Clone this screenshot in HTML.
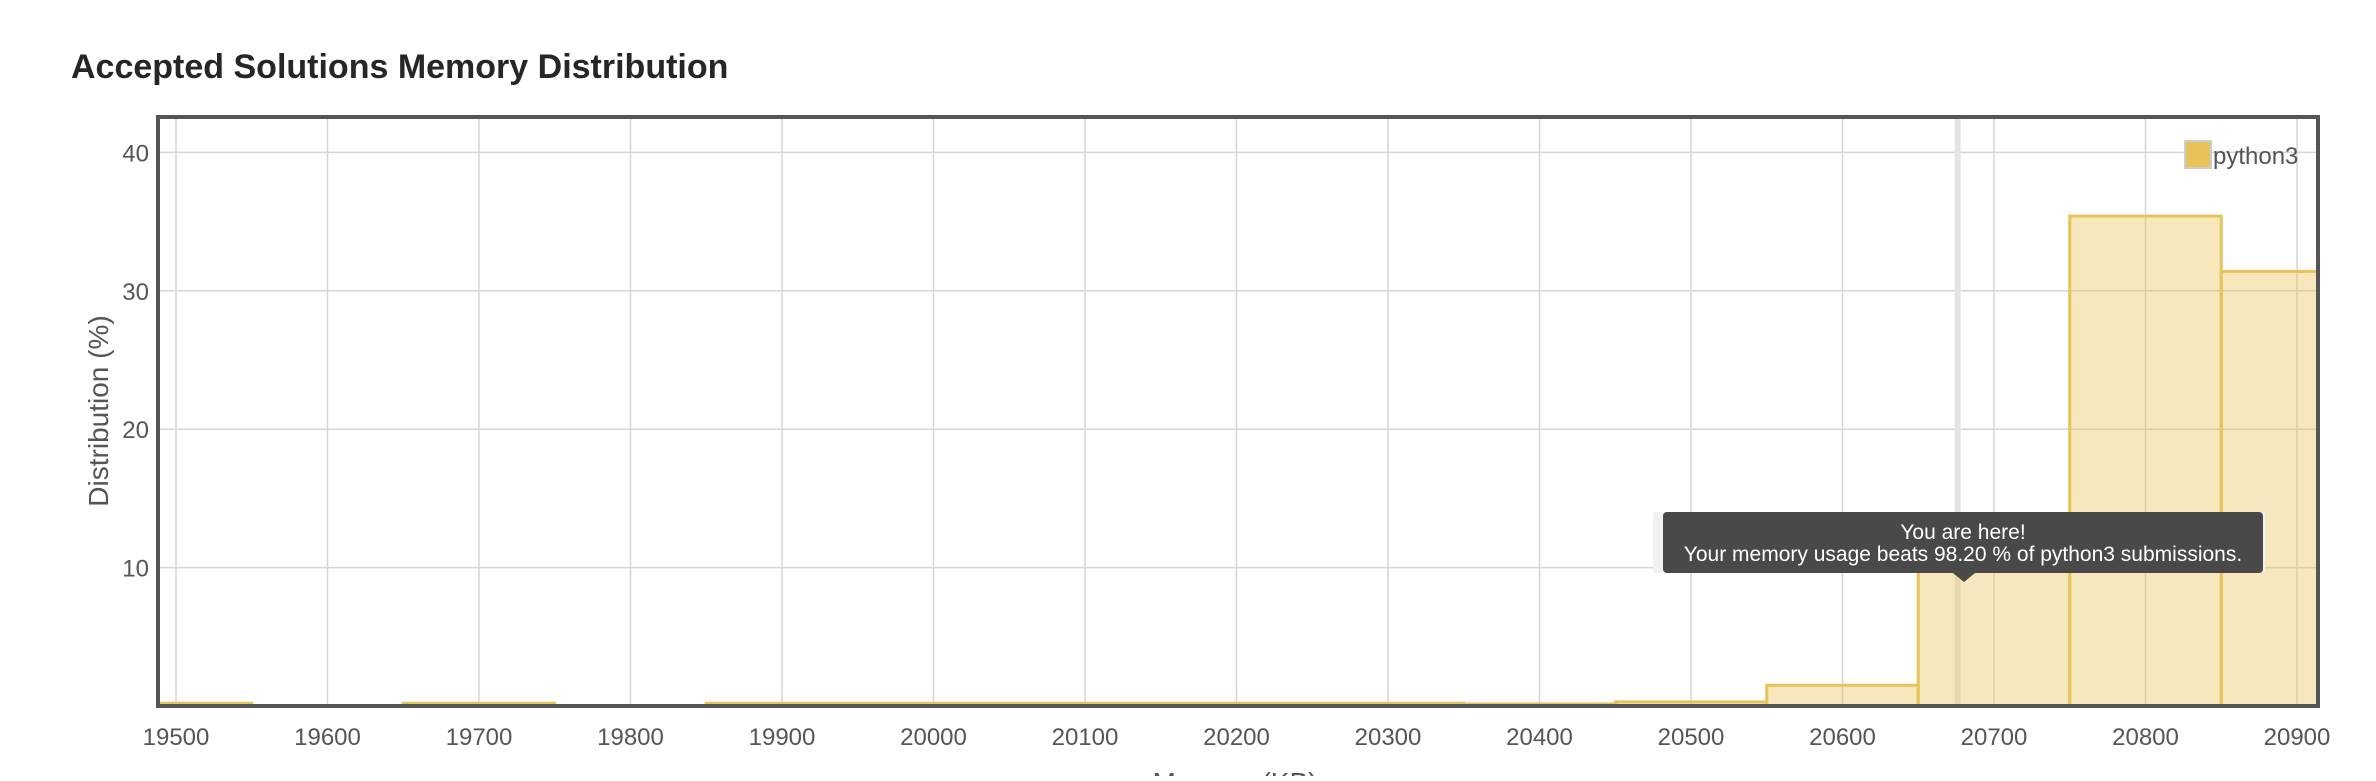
<!DOCTYPE html>
<html><head><meta charset="utf-8"><style>
body{margin:0;background:#fff;width:2376px;height:776px;overflow:hidden;font-family:"Liberation Sans",sans-serif}
</style></head><body>
<svg width="2376" height="776">
<text x="71" y="78" font-size="34" font-weight="600" fill="#262626">Accepted Solutions Memory Distribution</text>
<g id="grid"></g><g id="bars"></g><g id="axes"></g>
</svg>
<script>
const binStarts=[19450,19550,19650,19750,19850,19950,20050,20150,20250,20350,20450,20550,20650,20750,20850];
const values=[0.2,0,0.2,0,0.2,0.2,0.2,0.2,0.2,0.15,0.3,1.5,10.5,35.4,31.4];
const xTicks=[19500,19600,19700,19800,19900,20000,20100,20200,20300,20400,20500,20600,20700,20800,20900];
const yTicks=[10,20,30,40];
const binWidth=100;
const youAreHere=20676;
const L=158,R=2318,T=117,B=706;
const x=v=>176+(v-19500)*1.515;
const y=v=>B-v*13.84;
const NS='http://www.w3.org/2000/svg';
function mk(tag,attrs,parent,text){const e=document.createElementNS(NS,tag);for(const k in attrs)e.setAttribute(k,attrs[k]);if(text!==undefined)e.textContent=text;parent.appendChild(e);return e;}
const grid=document.getElementById('grid'),bars=document.getElementById('bars'),axes=document.getElementById('axes');
xTicks.forEach(t=>{const l=mk('line',{x1:x(t),x2:x(t),y1:T,y2:B,stroke:'#d6d6d6','stroke-width':1.5},grid);


const s=mk('text',{x:x(t),y:745,'text-anchor':'middle','font-size':24,fill:'#555'},axes,String(t));

});
yTicks.forEach(t=>{const l=mk('line',{x1:L,x2:R,y1:y(t),y2:y(t),stroke:'#d6d6d6','stroke-width':1.5},grid);


const s=mk('text',{x:149,y:y(t)+9,'text-anchor':'end','font-size':24,fill:'#555'},axes,String(t));

});
const m=mk('rect',{x:x(youAreHere)-3,y:T,width:6,height:B-T,fill:'#e4e4e4'},grid);


binStarts.forEach((b,i)=>{const x0=Math.max(L,x(b)),x1=Math.min(R,x(b+binWidth));
const r=mk('rect',{x:x0,y:y(values[i]),width:x1-x0,height:B-y(values[i]),fill:'rgba(233,196,88,0.4)',stroke:'#e8c35a','stroke-width':3},bars);

});
const f=mk('rect',{x:L,y:T,width:R-L,height:B-T,fill:'none',stroke:'#555','stroke-width':4},axes);


const yt=mk('text',{x:0,y:0,transform:'translate(108,411) rotate(-90)','text-anchor':'middle','font-size':28,fill:'#555'},axes,'Distribution (%)');


const xt=mk('text',{x:1235,y:792,'text-anchor':'middle','font-size':28,fill:'#555'},axes,'Memory (KB)');


const lg=mk('g',{},axes);


mk('rect',{x:2185,y:141,width:26,height:27,fill:'#e8c35a',stroke:'#ccc','stroke-width':2},lg);
mk('text',{x:2213,y:164,'font-size':24,fill:'#555'},lg,'python3');
const tt=mk('g',{},axes);


mk('rect',{x:1653,y:512,width:612,height:61,fill:'#f2f2f2',rx:2},tt);
mk('rect',{x:1663,y:512,width:600,height:61,fill:'rgba(60,60,60,0.93)',rx:4},tt);
mk('path',{d:'M1953 573 L1975 573 L1964 582 Z',fill:'rgba(60,60,60,0.93)'},tt);
mk('text',{x:1963,y:539,'text-anchor':'middle','font-size':21,fill:'#fff'},tt,'You are here!');
mk('text',{x:1963,y:561,'text-anchor':'middle','font-size':21,fill:'#fff'},tt,'Your memory usage beats 98.20 % of python3 submissions.');
</script>
</body></html>
